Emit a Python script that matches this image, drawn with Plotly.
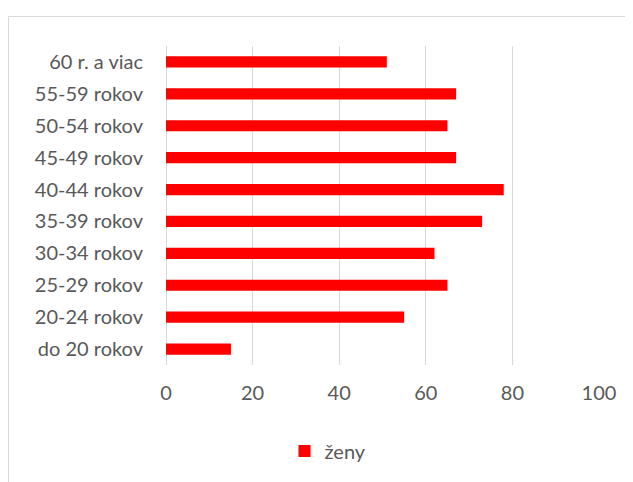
import plotly.graph_objects as go

categories = ["do 20 rokov", "20-24 rokov", "25-29 rokov", "30-34 rokov", "35-39 rokov",
              "40-44 rokov", "45-49 rokov", "50-54 rokov", "55-59 rokov", "60 r. a viac"]
zeny = [15, 55, 65, 62, 73, 78, 67, 65, 67, 51]
x_ticks = [0, 20, 40, 60, 80, 100]
series_name = "ženy"

# page has an 8px body margin; figure sized to fill the remaining window
OFF = 8
W, H = 633 - OFF, 482 - OFF
L, R, T, B = 158, 34, 38, 117
pw = W - L - R
ph = H - T - B

def px(x):  # page pixel -> paper
    return (x - OFF - L) / pw

def py(y):
    return (H - B - (y - OFF)) / ph

fig = go.Figure()
fig.add_trace(go.Bar(
    y=categories, x=zeny, orientation="h", name=series_name,
    marker=dict(color="#ff0000", line=dict(width=0)),
))

font = dict(family="Lato, Carlito, Calibri, sans-serif", size=20, color="#595959")

fig.update_layout(
    width=W, height=H,
    margin=dict(l=L, r=R, t=T, b=B),
    paper_bgcolor="white", plot_bgcolor="white",
    font=font,
    bargap=0.65,
    showlegend=True,
    legend=dict(orientation="h", x=px(328), xanchor="center", y=py(451), yanchor="middle",
                font=font),
    xaxis=dict(range=[0, 100], tickvals=x_ticks, showgrid=True, gridcolor="#d9d9d9",
               gridwidth=1, zeroline=True, zerolinecolor="#d9d9d9", zerolinewidth=1,
               showline=False, ticks="", ticklabelstandoff=14, fixedrange=True),
    yaxis=dict(showgrid=False, zeroline=False, showline=False, ticks="",
               ticklabelstandoff=22, fixedrange=True),
    shapes=[dict(type="rect", xref="paper", yref="paper",
                 x0=px(8.5), x1=px(700), y0=py(600), y1=py(16.5),
                 line=dict(color="#d9d9d9", width=1), fillcolor="rgba(0,0,0,0)", layer="below")],
)

fig.write_html("out.html")
